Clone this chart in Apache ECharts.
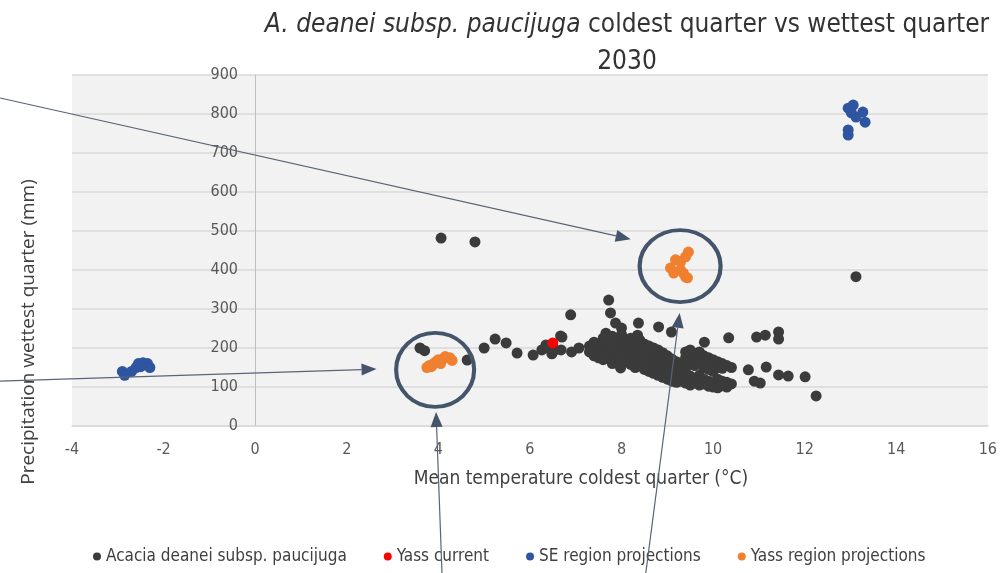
<!DOCTYPE html>
<html>
<head>
<meta charset="utf-8">
<script src="https://cdn.jsdelivr.net/npm/echarts@6/dist/echarts.min.js"></script>
<style>
  html, body { margin: 0; padding: 0; background: #fff; }
  #chart { width: 1000px; height: 573px; }
</style>
</head>
<body>
<div id="chart"></div>
<script>
// axis ticks
const xTicks = { min: -4, max: 16, step: 2 };
const yTicks = { min: 0, max: 900, step: 100 };

// Acacia deanei subsp. paucijuga records (mean temp coldest quarter, precip wettest quarter)
const acaciaPoints = [
  [3.6, 200], [3.7, 193], [4.06, 482], [4.8, 472], [4.63, 169], [5.0, 200], [5.24, 223],
  [5.48, 213], [5.72, 187], [6.07, 182], [6.26, 195], [6.35, 208], [6.48, 185], [6.4, 200],
  [6.55, 195], [6.67, 231], [6.89, 285], [6.7, 228], [6.68, 195], [6.91, 190], [7.07, 200],
  [7.72, 323], [7.76, 290], [7.87, 264], [7.66, 238], [8.0, 251], [8.37, 264], [8.35, 233],
  [8.81, 254], [9.09, 241], [9.81, 215], [10.34, 226], [10.95, 228], [11.14, 233],
  [11.43, 241], [11.43, 223], [10.77, 144], [11.03, 110], [10.9, 115], [11.16, 151],
  [11.43, 131], [11.64, 128], [12.01, 126], [12.25, 77], [13.12, 383], [7.98, 149],
  [7.3, 205], [7.3, 190],
  [7.4, 215], [7.4, 195], [7.4, 180],
  [7.5, 205], [7.5, 190], [7.5, 175],
  [7.6, 225], [7.6, 200], [7.6, 185], [7.6, 170],
  [7.7, 210], [7.7, 195], [7.7, 178],
  [7.8, 230], [7.8, 205], [7.8, 188], [7.8, 170], [7.8, 160],
  [7.9, 215], [7.9, 198], [7.9, 180], [7.9, 165],
  [8.0, 235], [8.0, 210], [8.0, 192], [8.0, 175],
  [8.1, 220], [8.1, 200], [8.1, 185], [8.1, 165],
  [8.2, 225], [8.2, 205], [8.2, 190], [8.2, 172], [8.2, 158],
  [8.3, 215], [8.3, 198], [8.3, 180], [8.3, 165], [8.3, 150],
  [8.4, 220], [8.4, 200], [8.4, 188], [8.4, 170], [8.4, 155],
  [8.5, 210], [8.5, 195], [8.5, 178], [8.5, 160], [8.5, 145],
  [8.6, 205], [8.6, 190], [8.6, 172], [8.6, 155], [8.6, 140],
  [8.7, 200], [8.7, 183], [8.7, 165], [8.7, 150], [8.7, 135],
  [8.8, 195], [8.8, 178], [8.8, 160], [8.8, 145], [8.8, 130],
  [8.9, 188], [8.9, 170], [8.9, 155], [8.9, 138], [8.9, 125],
  [9.0, 180], [9.0, 165], [9.0, 148], [9.0, 132], [9.0, 120],
  [9.1, 172], [9.1, 158], [9.1, 140], [9.1, 125], [9.1, 115],
  [9.2, 165], [9.2, 150], [9.2, 135], [9.2, 120], [9.2, 112],
  [9.3, 155], [9.3, 140], [9.3, 128], [9.3, 115],
  [9.4, 190], [9.4, 175], [9.4, 148], [9.4, 135], [9.4, 120], [9.4, 110],
  [9.5, 195], [9.5, 180], [9.5, 165], [9.5, 128], [9.5, 115], [9.5, 105],
  [9.6, 185], [9.6, 170], [9.6, 155], [9.6, 122], [9.6, 110],
  [9.7, 190], [9.7, 175], [9.7, 160], [9.7, 130], [9.7, 118], [9.7, 105],
  [9.8, 180], [9.8, 165], [9.8, 150], [9.8, 120], [9.8, 108],
  [9.9, 175], [9.9, 160], [9.9, 145], [9.9, 115], [9.9, 102],
  [10.0, 170], [10.0, 155], [10.0, 140], [10.0, 110], [10.0, 100],
  [10.1, 165], [10.1, 150], [10.1, 120], [10.1, 108], [10.1, 98],
  [10.2, 160], [10.2, 148], [10.2, 115], [10.2, 103],
  [10.3, 155], [10.3, 112], [10.3, 100],
  [10.4, 150], [10.4, 108]
];

const yassCurrent = [[6.5, 213]];

const sePoints = [
  [-2.9, 140], [-2.85, 130], [-2.7, 140], [-2.6, 150], [-2.55, 160], [-2.45, 162],
  [-2.35, 160], [-2.3, 150], [-2.5, 152],
  [12.95, 815], [13.06, 823], [13.02, 803], [13.12, 792], [13.27, 805], [13.32, 779],
  [12.95, 759], [12.95, 746]
];

const yassProjPoints = [
  [3.75, 150], [3.8, 155], [3.9, 160], [3.95, 165], [4.0, 170], [4.1, 172], [4.15, 178],
  [4.25, 175], [4.3, 168], [4.05, 160], [3.85, 152],
  [9.46, 446], [9.40, 434], [9.29, 421], [9.18, 426], [9.07, 405], [9.14, 392],
  [9.29, 400], [9.40, 382], [9.35, 392], [9.44, 380]
];

// annotations, in data units
const ringCenters = [[3.93, 144], [9.28, 410]];
const arrowFrom = [[-5.57, 841], [-5.57, 115], [4.08, -377], [8.53, -377]];
const arrowTo = [[8.2, 479], [2.65, 146], [3.95, 36], [9.27, 290]];

const narrow = "'Liberation Sans Narrow', 'DejaVu Sans Condensed', sans-serif";

const chart = echarts.init(document.getElementById('chart'), null, { renderer: 'canvas' });

const option = {
  animation: false,
  backgroundColor: '#fff',
  title: {
    text: '{i|A. deanei subsp. paucijuga} coldest quarter vs wettest quarter\n2030',
    left: 622,
    top: 2,
    textAlign: 'center',
    textStyle: {
      fontFamily: narrow,
      fontSize: 26,
      fontWeight: 'normal',
      color: '#333333',
      lineHeight: 37,
      rich: {
        i: { fontFamily: narrow, fontSize: 26, fontStyle: 'italic', color: '#333333', lineHeight: 37 }
      }
    }
  },
  legend: {
    data: ['Acacia deanei subsp. paucijuga', 'Yass current', 'SE region projections', 'Yass region projections'],
    left: 88,
    top: 543,
    icon: 'circle',
    itemWidth: 8,
    itemHeight: 8,
    itemGap: 37,
    textStyle: { fontFamily: narrow, fontSize: 17, color: '#404040' }
  },
  grid: {
    left: 72,
    right: 10,
    top: 75,
    bottom: 147,
    show: true,
    backgroundColor: '#f2f2f2',
    borderWidth: 0
  },
  xAxis: {
    type: 'value',
    min: xTicks.min,
    max: xTicks.max,
    interval: xTicks.step,
    name: 'Mean temperature coldest quarter (°C)',
    nameLocation: 'middle',
    nameGap: 44,
    nameTextStyle: { fontFamily: narrow, fontSize: 19, color: '#404040', padding: [0, 0, 0, 102] },
    axisLine: { show: true, lineStyle: { color: '#d9d9d9', width: 1.5 } },
    axisTick: { show: false },
    splitLine: { show: false },
    axisLabel: { fontFamily: narrow, fontSize: 16, color: '#595959', margin: 16 }
  },
  yAxis: {
    type: 'value',
    min: yTicks.min,
    max: yTicks.max,
    interval: yTicks.step,
    axisLine: { show: true, onZero: true, lineStyle: { color: '#bfbfbf', width: 1 } },
    axisTick: { show: false },
    splitLine: { show: true, lineStyle: { color: '#d9d9d9', width: 1.5 } },
    // labels sit just left of the x = 0 line, as in the source chart
    axisLabel: { fontFamily: narrow, fontSize: 16, color: '#595959', margin: -166 }
  },
  series: [
    {
      name: 'Acacia deanei subsp. paucijuga',
      type: 'scatter',
      symbolSize: 11,
      itemStyle: { color: '#3b3b3b', opacity: 1 },
      data: acaciaPoints
    },
    {
      name: 'Yass current',
      type: 'scatter',
      symbolSize: 11,
      itemStyle: { color: '#ff0000', opacity: 1 },
      data: yassCurrent
    },
    {
      name: 'SE region projections',
      type: 'scatter',
      symbolSize: 11,
      itemStyle: { color: '#2f55a0', opacity: 1 },
      data: sePoints
    },
    {
      name: 'Yass region projections',
      type: 'scatter',
      symbolSize: 11,
      itemStyle: { color: '#f08030', opacity: 1 },
      data: yassProjPoints
    },
    {
      name: 'rings',
      type: 'scatter',
      silent: true,
      z: 5,
      symbolSize: function (v, p) { return p.dataIndex === 0 ? [78, 74] : [81, 72]; },
      itemStyle: { color: 'rgba(0,0,0,0)', borderColor: '#44546a', borderWidth: 4, opacity: 1 },
      data: ringCenters
    }
  ],
  graphic: [
    {
      type: 'text',
      x: 29,
      y: 332,
      rotation: Math.PI / 2,
      style: {
        text: 'Precipitation wettest quarter (mm)',
        font: "19px 'Open Sans', sans-serif",
        fill: '#404040',
        align: 'center',
        verticalAlign: 'middle'
      }
    }
  ]
};

chart.setOption(option);

// arrows drawn over the plot once the scales exist
const arrowGraphics = [];
arrowFrom.forEach(function (from, i) {
  const a = chart.convertToPixel({ gridIndex: 0 }, from);
  const b = chart.convertToPixel({ gridIndex: 0 }, arrowTo[i]);
  const dx = b[0] - a[0], dy = b[1] - a[1];
  const len = Math.sqrt(dx * dx + dy * dy);
  const ux = dx / len, uy = dy / len;
  const headLen = 15, headHalf = 6;
  const baseX = b[0] - ux * headLen, baseY = b[1] - uy * headLen;
  arrowGraphics.push({
    type: 'line',
    z: 10,
    shape: { x1: a[0], y1: a[1], x2: baseX, y2: baseY },
    style: { stroke: '#5a6478', lineWidth: 1.2 }
  });
  arrowGraphics.push({
    type: 'polygon',
    z: 10,
    shape: {
      points: [
        [b[0], b[1]],
        [baseX - uy * headHalf, baseY + ux * headHalf],
        [baseX + uy * headHalf, baseY - ux * headHalf]
      ]
    },
    style: { fill: '#44546a' }
  });
});

chart.setOption({
  graphic: option.graphic.concat(arrowGraphics)
}, { replaceMerge: ['graphic'] });
</script>
</body>
</html>
